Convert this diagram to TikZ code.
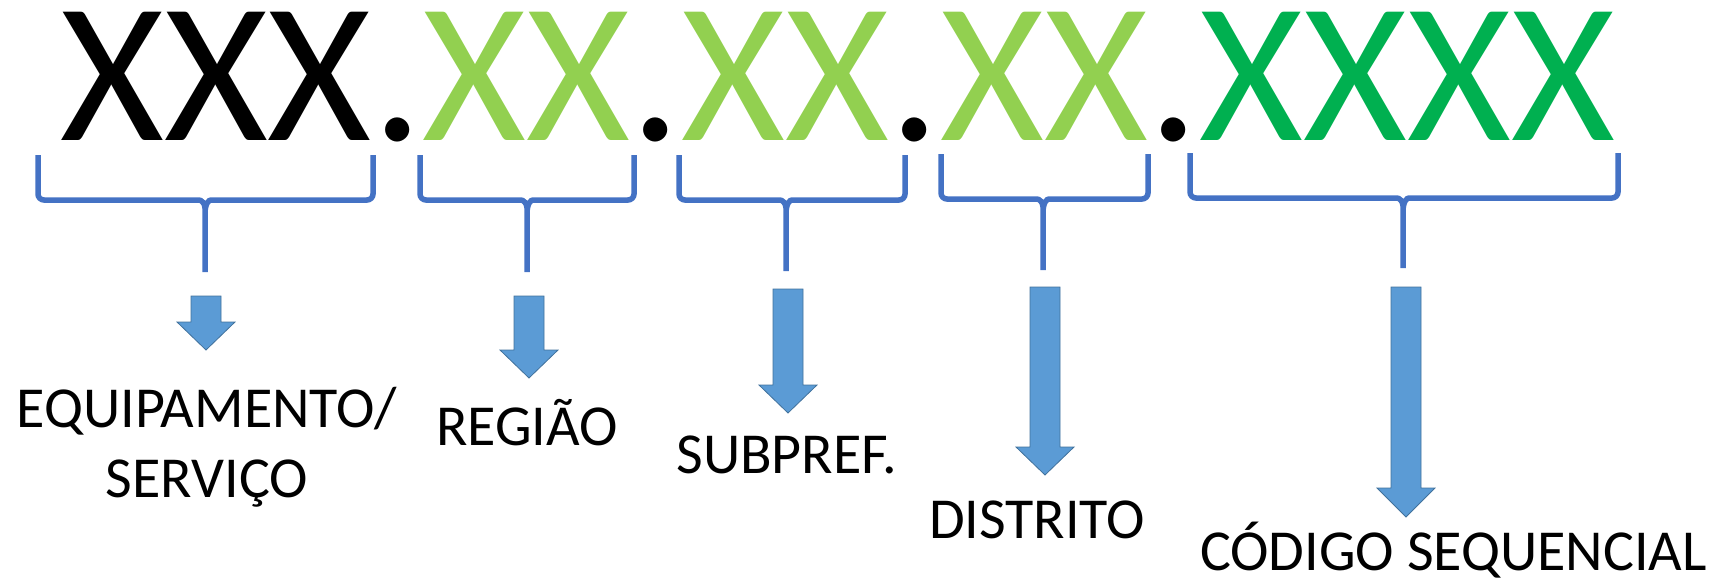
\documentclass[tikz,border=0pt]{standalone}
\usepackage{fontspec}
\setmainfont{Carlito}
\usepackage{tikz}
\definecolor{verdeclaro}{HTML}{92D050}
\definecolor{verdeescuro}{HTML}{00B050}
\definecolor{azulchave}{HTML}{4472C4}
\definecolor{azulseta}{HTML}{5B9BD5}
\definecolor{bordaseta}{HTML}{41719C}

\begin{document}
\begin{tikzpicture}[x=1pt,y=-1pt,
	codigo/.style={anchor=base west, inner sep=0pt, font=\fontsize{200}{200}\selectfont},
	chave/.style={draw=azulchave, line width=5.5pt, rounded corners=6pt},
	seta/.style={fill=azulseta, draw=bordaseta, line width=.8pt},
	rotulo/.style={anchor=base, inner sep=0pt, align=center, font=\fontsize{58}{70}\selectfont}]
		\useasboundingbox (0,0) rectangle (1717,581);

		\node[codigo] (equip) at (60,140) {XXX};
		\node[codigo] (p1) at (equip.base east) {.};
		\node[codigo, verdeclaro] (reg) at (p1.base east) {XX};
		\node[codigo] (p2) at (reg.base east) {.};
		\node[codigo, verdeclaro] (sub) at (p2.base east) {XX};
		\node[codigo] (p3) at (sub.base east) {.};
		\node[codigo, verdeclaro] (dist) at (p3.base east) {XX};
		\node[codigo] (p4) at (dist.base east) {.};
		\node[codigo, verdeescuro] (seq) at (p4.base east) {XXXX};

		\draw[chave] (38,155) -- (38,200) -- (193,200) .. controls (201,200) and (205,203) .. (205,214) -- (205,272)
			(205,214) .. controls (205,203) and (209,200) .. (217,200) -- (373,200) -- (373,155);
		\draw[chave] (420,155) -- (420,200) -- (515,200) .. controls (523,200) and (527,203) .. (527,214) -- (527,272)
			(527,214) .. controls (527,203) and (531,200) .. (539,200) -- (634,200) -- (634,155);
		\draw[chave] (679,155) -- (679,200) -- (774,200) .. controls (782,200) and (786,203) .. (786,214) -- (786,271)
			(786,214) .. controls (786,203) and (790,200) .. (798,200) -- (905,200) -- (905,155);
		\draw[chave] (941,154) -- (941,199) -- (1031,199) .. controls (1039,199) and (1043,202) .. (1043,213) -- (1043,270)
			(1043,213) .. controls (1043,202) and (1047,199) .. (1055,199) -- (1148,199) -- (1148,154);
		\draw[chave] (1190,153) -- (1190,198) -- (1391,198) .. controls (1399,198) and (1403,201) .. (1403,212) -- (1403,268)
			(1403,212) .. controls (1403,201) and (1407,198) .. (1415,198) -- (1618,198) -- (1618,153);

		\filldraw[seta] (191,296) -- (221,296) -- (221,322) -- (235,322) -- (206,350) -- (177,322) -- (191,322) -- cycle;
		\filldraw[seta] (514,296) -- (544,296) -- (544,350) -- (558,350) -- (529,378) -- (500,350) -- (514,350) -- cycle;
		\filldraw[seta] (773,289) -- (803,289) -- (803,385) -- (817,385) -- (788,413) -- (759,385) -- (773,385) -- cycle;
		\filldraw[seta] (1030,287) -- (1060,287) -- (1060,447) -- (1074,447) -- (1045,475) -- (1016,447) -- (1030,447) -- cycle;
		\filldraw[seta] (1391,287) -- (1421,287) -- (1421,488) -- (1435,488) -- (1406,517) -- (1377,488) -- (1391,488) -- cycle;

		\node[rotulo] (lequip) at (207,497) {EQUIPAMENTO/\\SERVIÇO};
		\node[rotulo] (lreg) at (527,445) {REGIÃO};
		\node[rotulo] (lsub) at (787,473) {SUBPREF.};
		\node[rotulo] (ldist) at (1037,538) {DISTRITO};
		\node[rotulo, anchor=base east] (lcod) at (1707,570) {CÓDIGO SEQUENCIAL};
	\end{tikzpicture}
\end{document}
